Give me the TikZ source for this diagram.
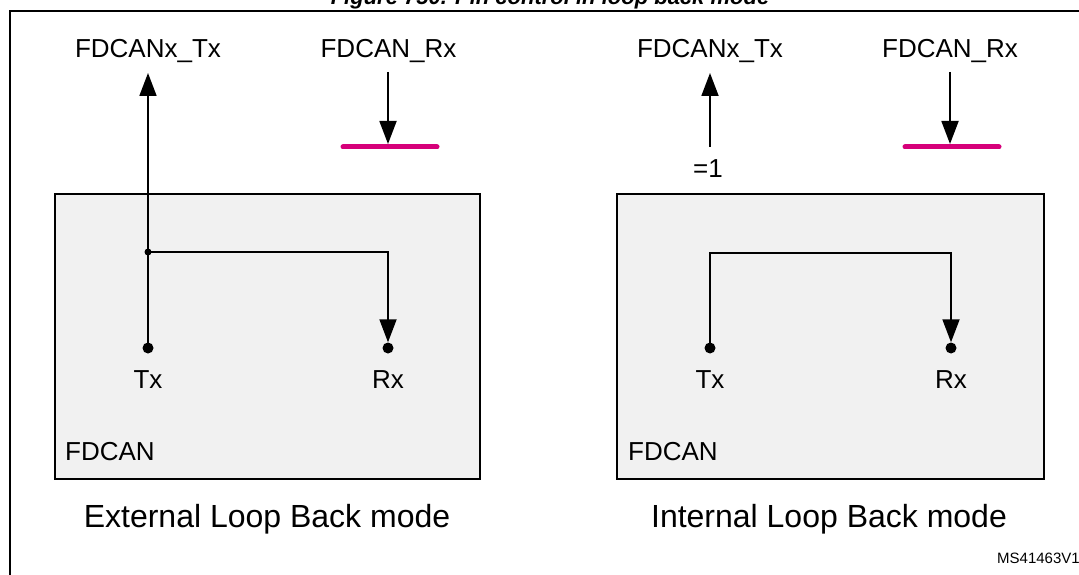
\documentclass[tikz,border=0pt]{standalone}
\usepackage{fontspec}
\setmainfont{Liberation Sans}
\usetikzlibrary{arrows.meta}
\definecolor{stpink}{RGB}{214,0,122}
\definecolor{boxgray}{RGB}{241,241,241}
\tikzset{
  lab/.style={font=\fontsize{26}{30}\selectfont, inner sep=0pt, anchor=base},
  capt/.style={font=\fontsize{32}{38}\selectfont, inner sep=0pt, anchor=base},
  blockbox/.style={draw, fill=boxgray, line width=1.8pt},
  pin/.style={circle, fill=black, inner sep=0pt, minimum size=11pt},
  jdot/.style={circle, fill=black, inner sep=0pt, minimum size=7pt},
  sig/.style={line width=1.8pt, -{Triangle[length=23pt, width=17pt]}},
  bar/.style={line width=5pt, stpink, line cap=round},
}
\begin{document}
\begin{tikzpicture}[x=1pt, y=-1pt]
\useasboundingbox (0,0) rectangle (1079,575);
\clip (0,0) rectangle (1079,575);
\fill[white] (0,0) rectangle (1079,575);
% title (cut off at top, as in the reference)
\node[font=\fontsize{22}{26}\selectfont\bfseries\itshape, inner sep=0pt, anchor=base] (title) at (550,5) {Figure 750. Pin control in loop back mode};
% outer frame
\draw[line width=2pt] (10,11) rectangle (1100,600);
\node[font=\fontsize{15}{17}\selectfont, inner sep=0pt, anchor=base west] (ref) at (997,563) {MS41463V1};

% ---------- left panel: external loop back ----------
\node[blockbox, minimum width=425pt, minimum height=285pt, anchor=north west, inner sep=0pt] (boxL) at (54,193) {};
\node[lab, anchor=base west] (fdcanL) at (65,460) {FDCAN};
\node[pin] (txL) at (148,348) {};
\node[pin] (rxL) at (388,348) {};
\node[lab] (txlabL) at (148,388) {Tx};
\node[lab] (rxlabL) at (388,388) {Rx};
\node[jdot] (jL) at (148,252) {};
\node[lab] (outTxL) at (148,58) {FDCANx\_Tx};
\node[lab] (inRxL) at (388.5,58) {FDCAN\_Rx};
\coordinate (tipTxL) at (148,73);
\coordinate (startRxL) at (388,72);
\coordinate (barLa) at (343,147);
\coordinate (barLb) at (437,147);
\coordinate (tipRxL) at (388,144);
\draw[sig] (txL.center) -- (tipTxL);
\draw[sig] (jL.center) -| (rxL.north);
\draw[bar] (barLa) -- (barLb);
\draw[sig] (startRxL) -- (tipRxL);
\node[capt] (captL) at (267,527) {External Loop Back mode};

% ---------- right panel: internal loop back ----------
\node[blockbox, minimum width=427pt, minimum height=285pt, anchor=north west, inner sep=0pt] (boxR) at (616,193) {};
\node[lab, anchor=base west] (fdcanR) at (628,460) {FDCAN};
\node[pin] (txR) at (710,348) {};
\node[pin] (rxR) at (951,348) {};
\node[lab] (txlabR) at (710,388) {Tx};
\node[lab] (rxlabR) at (951,388) {Rx};
\node[lab] (outTxR) at (710,58) {FDCANx\_Tx};
\node[lab] (inRxR) at (950,58) {FDCAN\_Rx};
\node[lab] (one) at (708,178) {=1};
\coordinate (startTxR) at (710,147);
\coordinate (tipTxR) at (710,73);
\coordinate (startRxR) at (950,72);
\coordinate (tipRxR) at (950,144);
\coordinate (barRa) at (905,147);
\coordinate (barRb) at (999,147);
\coordinate (loopR) at (710,253);
\draw[sig] (startTxR) -- (tipTxR);
\draw[sig] (txR.center) -- (loopR) -| (rxR.north);
\draw[bar] (barRa) -- (barRb);
\draw[sig] (startRxR) -- (tipRxR);
\node[capt] (captR) at (829,527) {Internal Loop Back mode};
\end{tikzpicture}
\end{document}
